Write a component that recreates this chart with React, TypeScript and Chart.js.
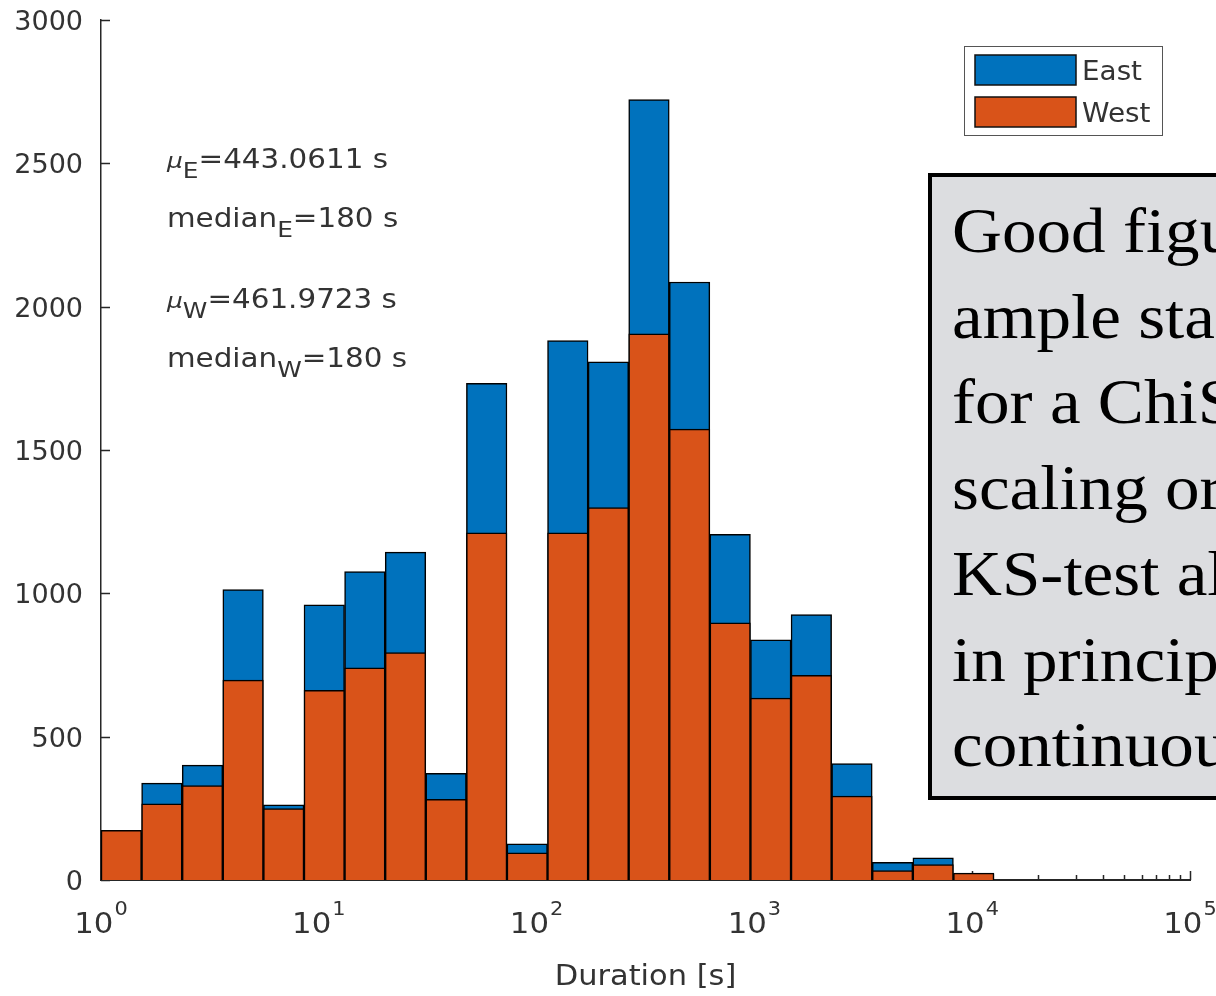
import React, { useEffect, useRef } from "react";
import { Chart, registerables } from "chart.js";

Chart.register(...registerables);

// ---- data ----
const binEdges = [
  1, 1.536, 2.359, 3.624, 5.567, 8.551, 13.13, 20.17, 30.99, 47.6, 73.11, 112.2,
  172.4, 264.7, 406.6, 624.5, 959.0, 1473, 2263, 3476, 5339, 8200, 12589,
];
const eastCounts = [
  165, 338, 401, 1013, 262, 960, 1076, 1144, 372, 1733, 126, 1882, 1808, 2722,
  2086, 1206, 838, 926, 406, 62, 77, 20,
];
const westCounts = [
  173, 266, 329, 697, 249, 662, 740, 793, 281, 1211, 95, 1211, 1299, 1905,
  1573, 897, 635, 714, 293, 33, 54, 24,
];
const seriesLabels = ["East", "West"];
const seriesColors = ["#0072BD", "#D95319"];
const yTickValues = [0, 500, 1000, 1500, 2000, 2500, 3000];
const xDecades = [0, 1, 2, 3, 4, 5];
const xMinorMultipliers = [2, 3, 4, 5, 6, 7, 8, 9];
const xTitle = "Duration [s]";
const statLines = [
  { sym: "\u03bc", sub: "E", rest: "=443.0611 s" },
  { sym: "median", sub: "E", rest: "=180 s" },
  { sym: "\u03bc", sub: "W", rest: "=461.9723 s" },
  { sym: "median", sub: "W", rest: "=180 s" },
];
const noteLines = [
  "Good figu",
  "ample sta",
  "for a ChiS",
  "scaling or",
  "KS-test al",
  "in princip",
  "continuou",
];

const binCenters = binEdges.slice(0, -1).map((e, i) => Math.sqrt(e * binEdges[i + 1]));

const AXIS_COLOR = "#262626";
const TEXT_COLOR = "#333333";
const SANS = "'DejaVu Sans', 'Liberation Sans', sans-serif";

function drawStretched(
  ctx: CanvasRenderingContext2D,
  text: string,
  x: number,
  y: number,
  font: string,
  sx: number,
  align: "left" | "center"
) {
  ctx.save();
  ctx.font = font;
  const w = ctx.measureText(text).width * sx;
  const startX = align === "center" ? x - w / 2 : x;
  ctx.translate(startX, y);
  ctx.scale(sx, 1);
  ctx.textAlign = "left";
  ctx.textBaseline = "alphabetic";
  ctx.fillText(text, 0, 0);
  ctx.restore();
  return w;
}

const matlabAxesPlugin = {
  id: "matlabAxes",
  beforeDatasetsDraw(chart: any) {
    const ctx: CanvasRenderingContext2D = chart.ctx;
    const xs = chart.scales.x;
    const ys = chart.scales.y;
    const area = chart.chartArea;
    ctx.save();
    ctx.strokeStyle = AXIS_COLOR;
    ctx.lineWidth = 1.5;
    ctx.beginPath();
    yTickValues.forEach((v) => {
      const py = Math.round(ys.getPixelForValue(v)) + 0.5;
      ctx.moveTo(area.left, py);
      ctx.lineTo(area.left + 9, py);
    });
    xDecades.forEach((k) => {
      const px = Math.round(xs.getPixelForValue(Math.pow(10, k))) + 0.5;
      ctx.moveTo(px, area.bottom);
      ctx.lineTo(px, area.bottom - 9);
      if (k < xDecades[xDecades.length - 1]) {
        xMinorMultipliers.forEach((m) => {
          const mx = Math.round(xs.getPixelForValue(m * Math.pow(10, k))) + 0.5;
          ctx.moveTo(mx, area.bottom);
          ctx.lineTo(mx, area.bottom - 5);
        });
      }
    });
    ctx.stroke();
    ctx.restore();
  },
  afterDraw(chart: any) {
    const ctx: CanvasRenderingContext2D = chart.ctx;
    const xs = chart.scales.x;
    const area = chart.chartArea;
    ctx.save();
    ctx.fillStyle = TEXT_COLOR;
    // x tick labels 10^k
    xDecades.forEach((k) => {
      const px = xs.getPixelForValue(Math.pow(10, k));
      const baseFont = `28px ${SANS}`;
      const supFont = `19px ${SANS}`;
      ctx.font = baseFont;
      const w10 = ctx.measureText("10").width * 1.1;
      ctx.font = supFont;
      const ws = ctx.measureText(String(k)).width * 1.1;
      const start = px - (w10 + ws + 1) / 2;
      drawStretched(ctx, "10", start, 933, baseFont, 1.1, "left");
      drawStretched(ctx, String(k), start + w10 + 1, 915, supFont, 1.1, "left");
    });
    // x title
    drawStretched(ctx, xTitle, (area.left + area.right) / 2, 985, `29px ${SANS}`, 1.05, "center");

    // legend
    const lx = 964.5;
    const ly = 46.5;
    ctx.fillStyle = "#ffffff";
    ctx.fillRect(lx, ly, 198, 89);
    ctx.strokeStyle = "#555555";
    ctx.lineWidth = 1;
    ctx.strokeRect(lx, ly, 198, 89);
    const ds = chart.data.datasets;
    ds.forEach((d: any, i: number) => {
      const sy = 55 + i * 42;
      ctx.fillStyle = d.backgroundColor;
      ctx.fillRect(975, sy, 101, 30);
      ctx.strokeStyle = "#111111";
      ctx.lineWidth = 1.5;
      ctx.strokeRect(975, sy, 101, 30);
      ctx.fillStyle = TEXT_COLOR;
      drawStretched(ctx, d.label, 1082, sy + 25, `26px ${SANS}`, 1.07, "left");
    });
    ctx.restore();
  },
};

function HistogramChart() {
  const canvasRef = useRef<HTMLCanvasElement | null>(null);

  useEffect(() => {
    if (!canvasRef.current) return;
    const chart = new Chart(canvasRef.current, {
      type: "bar",
      data: {
        datasets: [
          {
            label: seriesLabels[0],
            data: binCenters.map((c, i) => ({ x: c, y: eastCounts[i] })),
            backgroundColor: seriesColors[0],
            borderColor: "#000000",
            borderWidth: 1.5,
            order: 2,
          },
          {
            label: seriesLabels[1],
            data: binCenters.map((c, i) => ({ x: c, y: westCounts[i] })),
            backgroundColor: seriesColors[1],
            borderColor: "#000000",
            borderWidth: 1.5,
            order: 1,
          },
        ],
      } as any,
      options: {
        responsive: false,
        animation: false,
        devicePixelRatio: 1,
        datasets: {
          bar: {
            grouped: false,
            barPercentage: 1,
            categoryPercentage: 1,
          },
        },
        layout: { padding: { left: 0, right: 26, top: 20, bottom: 0 } },
        plugins: {
          legend: { display: false },
          tooltip: { enabled: false },
        },
        scales: {
          x: {
            type: "logarithmic",
            min: 1,
            max: 100000,
            offset: false,
            grid: { display: false, drawTicks: false },
            border: { display: true, color: AXIS_COLOR, width: 2 },
            ticks: { display: false },
            afterBuildTicks: (s: any) => {
              s.ticks = xDecades.map((k) => ({ value: Math.pow(10, k) }));
            },
            afterFit: (s: any) => {
              s.height = 116;
              s.paddingLeft = 0;
              s.paddingRight = 0;
            },
          },
          y: {
            type: "linear",
            min: 0,
            max: 3000,
            grid: { display: false, drawTicks: false },
            border: { display: true, color: AXIS_COLOR, width: 1.5 },
            afterBuildTicks: (s: any) => {
              s.ticks = yTickValues.map((v) => ({ value: v }));
            },
            ticks: {
              color: TEXT_COLOR,
              padding: 18,
              labelOffset: 3,
              font: { family: SANS, size: 27 },
              callback: (v: any) => String(v),
            },
            afterFit: (s: any) => {
              s.width = 101;
              s.paddingTop = 0;
              s.paddingBottom = 0;
            },
          },
        },
      } as any,
      plugins: [matlabAxesPlugin],
    });
    return () => chart.destroy();
  }, []);

  return (
    <canvas
      ref={canvasRef}
      width={1216}
      height={996}
      style={{ position: "absolute", left: 0, top: 0, width: 1216, height: 996 }}
    />
  );
}

export default function App() {
  const statTops = [146, 205, 286, 345];
  return (
    <div
      style={{
        position: "fixed",
        left: 0,
        top: 0,
        width: 1216,
        height: 996,
        overflow: "hidden",
        background: "#ffffff",
      }}
    >
      <HistogramChart />
      {statLines.map((s, i) => (
        <div
          key={i}
          style={{
            position: "absolute",
            left: 167,
            top: statTops[i],
            fontFamily: SANS,
            fontSize: 26,
            lineHeight: "26px",
            color: TEXT_COLOR,
            whiteSpace: "nowrap",
            transform: "scaleX(1.13)",
            transformOrigin: "left top",
          }}
        >
          <span style={s.sym === "\u03bc" ? { fontStyle: "italic", fontSize: 22 } : undefined}>
            {s.sym}
          </span>
          <span style={{ fontSize: 22, position: "relative", top: 10 }}>{s.sub}</span>
          {s.rest}
        </div>
      ))}
      <div
        style={{
          position: "absolute",
          left: 928,
          top: 173,
          width: 400,
          height: 627,
          boxSizing: "border-box",
          border: "4.5px solid #000000",
          background: "#dcdde0",
          paddingLeft: 20,
          paddingTop: 11,
          fontFamily: "'Liberation Serif', 'DejaVu Serif', serif",
          fontSize: 64,
          lineHeight: "85.7px",
          color: "#000000",
          whiteSpace: "nowrap",
        }}
      >
        {noteLines.map((l, i) => (
          <div key={i} style={{ transform: "scaleX(1.08)", transformOrigin: "left center" }}>
            {l}
          </div>
        ))}
      </div>
    </div>
  );
}
